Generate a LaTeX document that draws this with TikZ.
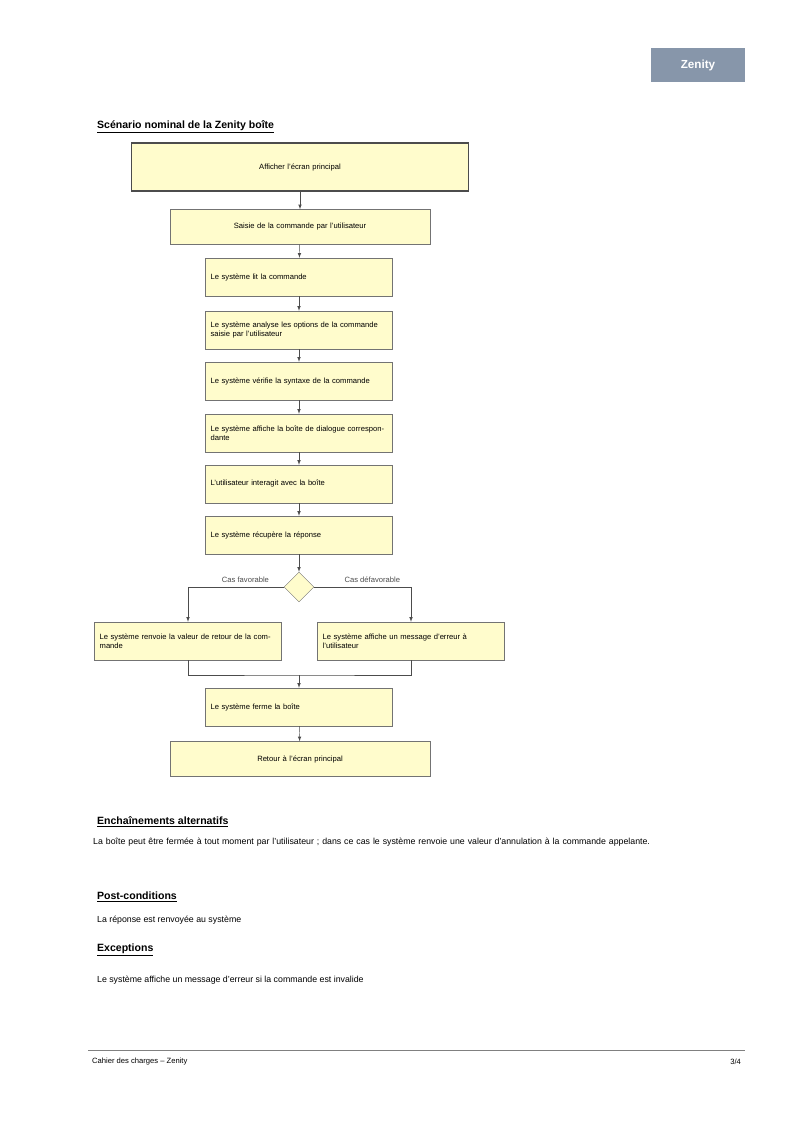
\documentclass[tikz,border=0pt]{standalone}
\usepackage{fontspec}
\setmainfont{Liberation Sans}
\usetikzlibrary{shapes.geometric,calc}
\definecolor{tagblue}{RGB}{135,150,170}

\begin{document}
\begin{tikzpicture}[x=0.3mm,y=-0.3mm,font=\fontsize{6.5}{8}\selectfont,
    stepbox/.style={draw=black!55,fill=yellow!20,minimum height=11.4mm,
      text width=53mm,align=left,inner sep=1.5mm},
    widebox/.style={stepbox,text width=75mm,align=center,minimum height=10.5mm},
    flow/.style={->,>=latex,black!70},
    bodytext/.style={anchor=west,font=\fontsize{7.5}{9.5}\selectfont}]

    \useasboundingbox (0,0) rectangle (800,1131);

    % en-tete
    \node[fill=tagblue,text=white,minimum width=28mm,minimum height=10mm,
      font=\bfseries\normalsize] (tag) at (698,65) {Zenity};
    \node[anchor=west,font=\bfseries\small] (title) at (93,127) {\underline{Scénario nominal de la Zenity boîte}};

    % etapes
    \node[stepbox,draw=black!70,line width=1.2pt,text width=98mm,align=center,
      minimum height=14.5mm] (GA) at (300,167) {Afficher l'écran principal};
    \node[widebox] (GB) at (300,227) {Saisie de la commande par l'utilisateur};
    \node[stepbox] (GC) at (299,277) {Le système lit la commande};
    \node[stepbox] (GD) at (299,330) {Le système analyse les options de la commande saisie par l'utilisateur};
    \node[stepbox] (GE) at (299,381) {Le système vérifie la syntaxe de la commande};
    \node[stepbox] (GF) at (299,433) {Le système affiche la boîte de dialogue correspondante};
    \node[stepbox] (GG) at (299,484) {L'utilisateur interagit avec la boîte};
    \node[stepbox] (GH) at (299,535) {Le système récupère la réponse};
    \node[diamond,draw=black!55,fill=yellow!20,minimum size=9mm,inner sep=0pt] (GX) at (299,587) {};
    \node[stepbox] (GL) at (188,641) {Le système renvoie la valeur de retour de la commande};
    \node[stepbox] (GR) at (411,641) {Le système affiche un message d'erreur à l'utilisateur};
    \node[stepbox] (GI) at (299,707) {Le système ferme la boîte};
    \node[widebox] (GJ) at (300,759) {Retour à l'écran principal};

    \draw[flow] (GA) -- (GB);
    \draw[flow] (GB) -- (GC);
    \draw[flow] (GC) -- (GD);
    \draw[flow] (GD) -- (GE);
    \draw[flow] (GE) -- (GF);
    \draw[flow] (GF) -- (GG);
    \draw[flow] (GG) -- (GH);
    \draw[flow] (GH) -- (GX);
    \draw[flow] (GX.west) -| node[pos=0.2,above] {Cas favorable} (GL.north);
    \draw[flow] (GX.east) -| node[pos=0.3,above] {Cas défavorable} (GR.north);
    \coordinate (merge) at (299,675);
    \draw[black!70] (GL.south) |- (merge) -| (GR.south);
    \draw[flow] (merge) -- (GI);
    \draw[flow] (GI) -- (GJ);

    % texte
    \node[anchor=west,font=\bfseries\small] (h1) at (93,822) {\underline{Enchaînements alternatifs}};
    \node[bodytext,anchor=north west,text width=182mm,align=left,inner sep=0pt] (t1) at (93,838)
      {La boîte peut être fermée à tout moment par l'utilisateur ; dans ce cas le système renvoie une valeur d'annulation à la commande appelante.};
    \node[anchor=west,font=\bfseries\small] (h2) at (93,897) {\underline{Post-conditions}};
    \node[bodytext] (t2) at (93,920) {La réponse est renvoyée au système};
    \node[anchor=west,font=\bfseries\small] (h3) at (93,950) {\underline{Exceptions}};
    \node[bodytext] (t3) at (93,980) {Le système affiche un message d'erreur si la commande est invalide};

    % pied de page
    \draw[black!50] (88,1050) -- (745,1050);
    \node[anchor=west,font=\fontsize{6.5}{8}\selectfont] (foot) at (88,1062) {Cahier des charges -- Zenity};
    \node[anchor=east,font=\fontsize{6.5}{8}\selectfont] (page) at (745,1062) {3/4};
\end{tikzpicture}
\end{document}
